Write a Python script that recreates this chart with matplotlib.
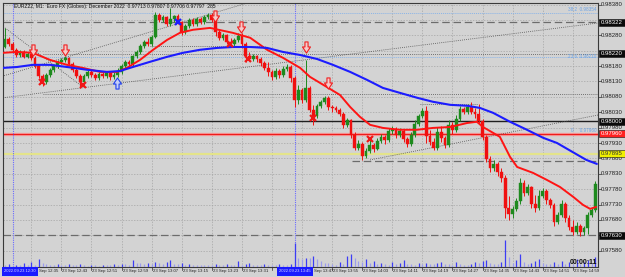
import matplotlib
matplotlib.use("Agg")
import matplotlib.pyplot as plt
from matplotlib.path import Path
from matplotlib.patches import Rectangle

# ---------------- data ----------------
open_ = [0.98242, 0.98268, 0.98252, 0.98233, 0.98216, 0.98226, 0.98210, 0.98220, 0.98207, 0.98181,
         0.98148, 0.98129, 0.98151, 0.98168, 0.98181, 0.98194, 0.98200, 0.98207, 0.98187, 0.98168,
         0.98148, 0.98129, 0.98148, 0.98161, 0.98151, 0.98142, 0.98155, 0.98148, 0.98158, 0.98145,
         0.98151, 0.98161, 0.98181, 0.98194, 0.98187, 0.98213, 0.98226, 0.98246, 0.98259, 0.98252,
         0.98275, 0.98346, 0.98330, 0.98340, 0.98317, 0.98333, 0.98343, 0.98324, 0.98291, 0.98311,
         0.98330, 0.98317, 0.98333, 0.98324, 0.98340, 0.98346, 0.98330, 0.98291, 0.98272, 0.98281,
         0.98259, 0.98252, 0.98265, 0.98278, 0.98252, 0.98213, 0.98203, 0.98213, 0.98203, 0.98190,
         0.98174, 0.98161, 0.98145, 0.98164, 0.98151, 0.98171, 0.98177, 0.98142, 0.98070, 0.98103,
         0.98070, 0.98109, 0.98038, 0.98018, 0.98051, 0.98064, 0.98077, 0.98047, 0.98044, 0.98038,
         0.98025, 0.97989, 0.98005, 0.97956, 0.97914, 0.97927, 0.97888, 0.97904, 0.97924, 0.97911,
         0.97937, 0.97950, 0.97940, 0.97969, 0.97976, 0.97956, 0.97969, 0.97943, 0.97927, 0.97956,
         0.97992, 0.98018, 0.98034, 0.97953, 0.97934, 0.97914, 0.97966, 0.97947, 0.97924, 0.97989,
         0.97973, 0.98008, 0.98041, 0.98031, 0.98047, 0.98031, 0.98025, 0.98002, 0.97950, 0.97878,
         0.97849, 0.97862, 0.97836, 0.97817, 0.97719, 0.97700, 0.97716, 0.97742, 0.97800, 0.97768,
         0.97787, 0.97732, 0.97719, 0.97758, 0.97774, 0.97745, 0.97729, 0.97674, 0.97696, 0.97732,
         0.97687, 0.97657, 0.97641, 0.97661, 0.97641, 0.97654, 0.97696, 0.97713]
high = [0.98304, 0.98275, 0.98259, 0.98239, 0.98233, 0.98233, 0.98226, 0.98223, 0.98213, 0.98187,
        0.98155, 0.98158, 0.98174, 0.98187, 0.98200, 0.98207, 0.98213, 0.98210, 0.98194, 0.98174,
        0.98155, 0.98155, 0.98168, 0.98168, 0.98158, 0.98161, 0.98161, 0.98164, 0.98161, 0.98161,
        0.98174, 0.98187, 0.98200, 0.98200, 0.98216, 0.98233, 0.98252, 0.98265, 0.98272, 0.98281,
        0.98356, 0.98353, 0.98346, 0.98343, 0.98369, 0.98346, 0.98350, 0.98327, 0.98317, 0.98337,
        0.98337, 0.98340, 0.98340, 0.98346, 0.98353, 0.98353, 0.98340, 0.98298, 0.98288, 0.98285,
        0.98272, 0.98272, 0.98288, 0.98288, 0.98259, 0.98226, 0.98220, 0.98216, 0.98210, 0.98197,
        0.98194, 0.98168, 0.98174, 0.98171, 0.98181, 0.98187, 0.98184, 0.98148, 0.98119, 0.98109,
        0.98200, 0.98116, 0.98054, 0.98057, 0.98070, 0.98083, 0.98083, 0.98054, 0.98051, 0.98044,
        0.98031, 0.98012, 0.98008, 0.97966, 0.97940, 0.97934, 0.97914, 0.97940, 0.97930, 0.97947,
        0.97960, 0.97956, 0.97979, 0.97986, 0.97982, 0.97979, 0.97976, 0.97950, 0.97966, 0.98005,
        0.98025, 0.98044, 0.98051, 0.97973, 0.97947, 0.97982, 0.97986, 0.97953, 0.98005, 0.97999,
        0.98021, 0.98051, 0.98047, 0.98057, 0.98064, 0.98044, 0.98057, 0.98008, 0.97956, 0.97888,
        0.97875, 0.97869, 0.97849, 0.97826, 0.97758, 0.97726, 0.97752, 0.97817, 0.97810, 0.97797,
        0.97791, 0.97761, 0.97778, 0.97784, 0.97781, 0.97752, 0.97735, 0.97706, 0.97745, 0.97739,
        0.97696, 0.97680, 0.97674, 0.97667, 0.97661, 0.97706, 0.97719, 0.97807]
low = [0.98239, 0.98246, 0.98226, 0.98210, 0.98210, 0.98207, 0.98207, 0.98200, 0.98174, 0.98142,
       0.98116, 0.98122, 0.98145, 0.98161, 0.98174, 0.98187, 0.98194, 0.98181, 0.98161, 0.98142,
       0.98109, 0.98122, 0.98142, 0.98145, 0.98135, 0.98135, 0.98142, 0.98142, 0.98135, 0.98138,
       0.98145, 0.98155, 0.98174, 0.98181, 0.98181, 0.98207, 0.98220, 0.98239, 0.98246, 0.98246,
       0.98272, 0.98324, 0.98324, 0.98311, 0.98311, 0.98324, 0.98317, 0.98281, 0.98285, 0.98304,
       0.98311, 0.98311, 0.98317, 0.98317, 0.98333, 0.98324, 0.98278, 0.98265, 0.98265, 0.98252,
       0.98246, 0.98246, 0.98259, 0.98239, 0.98194, 0.98200, 0.98197, 0.98194, 0.98181, 0.98168,
       0.98148, 0.98135, 0.98138, 0.98142, 0.98145, 0.98164, 0.98129, 0.98047, 0.98057, 0.98060,
       0.98064, 0.98031, 0.97989, 0.98012, 0.98044, 0.98057, 0.98038, 0.98031, 0.98031, 0.98018,
       0.97979, 0.97982, 0.97947, 0.97908, 0.97908, 0.97875, 0.97882, 0.97898, 0.97901, 0.97908,
       0.97930, 0.97927, 0.97934, 0.97960, 0.97947, 0.97950, 0.97934, 0.97917, 0.97921, 0.97950,
       0.97986, 0.98012, 0.97930, 0.97924, 0.97908, 0.97908, 0.97934, 0.97914, 0.97917, 0.97960,
       0.97966, 0.98002, 0.98025, 0.98025, 0.98025, 0.98012, 0.97992, 0.97940, 0.97869, 0.97836,
       0.97839, 0.97823, 0.97804, 0.97687, 0.97680, 0.97687, 0.97709, 0.97732, 0.97758, 0.97761,
       0.97719, 0.97706, 0.97713, 0.97752, 0.97732, 0.97719, 0.97661, 0.97667, 0.97690, 0.97674,
       0.97648, 0.97631, 0.97635, 0.97628, 0.97631, 0.97635, 0.97690, 0.97706]
close = [0.98268, 0.98252, 0.98233, 0.98216, 0.98226, 0.98210, 0.98220, 0.98207, 0.98181, 0.98148,
         0.98129, 0.98151, 0.98168, 0.98181, 0.98194, 0.98200, 0.98207, 0.98187, 0.98168, 0.98148,
         0.98129, 0.98148, 0.98161, 0.98151, 0.98142, 0.98155, 0.98148, 0.98158, 0.98145, 0.98151,
         0.98161, 0.98181, 0.98194, 0.98187, 0.98213, 0.98226, 0.98246, 0.98259, 0.98252, 0.98275,
         0.98346, 0.98330, 0.98340, 0.98317, 0.98333, 0.98343, 0.98324, 0.98291, 0.98311, 0.98330,
         0.98317, 0.98333, 0.98324, 0.98340, 0.98346, 0.98330, 0.98291, 0.98272, 0.98281, 0.98259,
         0.98252, 0.98265, 0.98278, 0.98252, 0.98213, 0.98203, 0.98213, 0.98203, 0.98190, 0.98174,
         0.98161, 0.98145, 0.98164, 0.98151, 0.98171, 0.98177, 0.98142, 0.98070, 0.98103, 0.98070,
         0.98109, 0.98038, 0.98018, 0.98051, 0.98064, 0.98077, 0.98047, 0.98044, 0.98038, 0.98025,
         0.97989, 0.98005, 0.97956, 0.97914, 0.97927, 0.97888, 0.97904, 0.97924, 0.97911, 0.97937,
         0.97950, 0.97940, 0.97969, 0.97976, 0.97956, 0.97969, 0.97943, 0.97927, 0.97956, 0.97992,
         0.98018, 0.98034, 0.97953, 0.97934, 0.97914, 0.97966, 0.97947, 0.97924, 0.97989, 0.97973,
         0.98008, 0.98041, 0.98031, 0.98047, 0.98031, 0.98025, 0.98002, 0.97950, 0.97878, 0.97849,
         0.97862, 0.97836, 0.97817, 0.97719, 0.97700, 0.97716, 0.97742, 0.97800, 0.97768, 0.97787,
         0.97732, 0.97719, 0.97758, 0.97774, 0.97745, 0.97729, 0.97674, 0.97696, 0.97732, 0.97687,
         0.97657, 0.97641, 0.97661, 0.97641, 0.97654, 0.97696, 0.97713, 0.97797]
volume = [55, 85, 30, 55, 55, 115, 55, 140, 55, 230,
          115, 85, 55, 55, 85, 55, 55, 85, 55, 55,
          85, 55, 30, 55, 55, 30, 55, 55, 55, 85,
          55, 85, 85, 55, 200, 115, 115, 85, 115, 85,
          140, 115, 85, 140, 200, 85, 85, 115, 55, 85,
          55, 55, 55, 55, 55, 55, 85, 55, 55, 85,
          55, 55, 170, 55, 85, 115, 55, 55, 55, 85,
          55, 55, 55, 85, 55, 55, 85, 685, 255, 230,
          255, 255, 315, 230, 170, 115, 115, 85, 55, 140,
          85, 315, 370, 255, 170, 140, 230, 115, 170, 85,
          115, 85, 55, 140, 85, 115, 200, 85, 85, 55,
          115, 85, 115, 85, 85, 115, 140, 85, 85, 55,
          140, 85, 55, 55, 85, 140, 115, 170, 200, 115,
          85, 85, 140, 770, 285, 115, 200, 370, 140, 85,
          115, 170, 230, 115, 85, 85, 140, 85, 170, 85,
          140, 85, 230, 85, 140, 200, 115, 285]

red_ma_idx = [-0.6, 3.2, 7.4, 12, 16.5, 20.7, 25.3, 29.8, 32.4, 35.9, 39.4, 43.1, 46.5, 50, 54.5,
              60.6, 65.2, 69.7, 73.9, 78.5, 81.1, 85.6, 89.1, 91.8, 94.4, 97.1, 100.5, 105,
              109.6, 113.8, 118.4, 122.9, 125.5, 127.1, 129.8, 131.6, 134.3, 136.2, 140.4,
              144.1, 147.6, 151.1, 153.7, 155.6, 157.2]
red_ma = [0.98223, 0.98226, 0.98223, 0.98200, 0.98184, 0.98174, 0.98161, 0.98161, 0.98174, 0.98200,
          0.98233, 0.98265, 0.98288, 0.98298, 0.98304, 0.98288, 0.98272, 0.98233, 0.98207, 0.98174,
          0.98145, 0.98112, 0.98086, 0.98047, 0.98015, 0.97989, 0.97979, 0.97973, 0.97973, 0.97979,
          0.97982, 0.97995, 0.97999, 0.97982, 0.97963, 0.97950, 0.97885, 0.97852, 0.97833, 0.97810,
          0.97787, 0.97755, 0.97729, 0.97716, 0.97722]
blue_ma_idx = [-0.6, 3.2, 7.4, 12, 16.5, 21.8, 27.1, 30.6, 34, 38.6, 43.1, 47.3, 51.9, 56.4, 60.6,
               65.2, 69.7, 73.9, 78.5, 83, 87.2, 91.8, 96.3, 100.5, 105, 109.6, 113.8, 118.4,
               122.9, 126.3, 129.8, 134.3, 138.8, 143.1, 146.8, 150.9, 154.6, 157.4]
blue_ma = [0.98174, 0.98177, 0.98184, 0.98184, 0.98177, 0.98168, 0.98161, 0.98164, 0.98177, 0.98194,
           0.98210, 0.98223, 0.98233, 0.98239, 0.98242, 0.98242, 0.98239, 0.98226, 0.98216, 0.98203,
           0.98184, 0.98161, 0.98135, 0.98109, 0.98093, 0.98077, 0.98064, 0.98054, 0.98051, 0.98044,
           0.98028, 0.97999, 0.97973, 0.97947, 0.97930, 0.97901, 0.97875, 0.97862]

tick_idx = [7, 15, 23, 31, 39, 47, 55, 63, 71, 79, 87, 95, 103, 111, 119, 127, 135, 143, 151]
tick_labels = ["23 Sep 12:35", "23 Sep 12:43", "23 Sep 12:51", "23 Sep 12:59", "23 Sep 13:07",
               "23 Sep 13:15", "23 Sep 13:23", "23 Sep 13:31", "23 Sep 13:39", "23 Sep 13:47",
               "23 Sep 13:55", "23 Sep 14:03", "23 Sep 14:11", "23 Sep 14:19", "23 Sep 14:27",
               "23 Sep 14:35", "23 Sep 14:43", "23 Sep 14:51", "23 Sep 14:59"]
price_ticks = [0.98380, 0.98330, 0.98280, 0.98230, 0.98180, 0.98130, 0.98080, 0.98030, 0.97980,
               0.97930, 0.97880, 0.97830, 0.97780, 0.97730, 0.97680, 0.97630, 0.97580]
price_labels = ["0.98380", "0.98330", "0.98280", "0.98230", "0.98180", "0.98130", "0.98080",
                "0.98030", "0.97980", "0.97930", "0.97880", "0.97830", "0.97780", "0.97730",
                "0.97680", "0.97630", "0.97580"]

sell_idx = [7.4, 16, 55.9, 62.8, 80, 85.9]
sell_price = [0.98233, 0.98233, 0.98343, 0.98307, 0.98242, 0.98125]
buy_idx = [29.8]
buy_price = [0.98125]
redx_idx = [9.8, 20.7, 59.8, 64.6, 81.9, 97.1]
redx_price = [0.98129, 0.98119, 0.98252, 0.98203, 0.98012, 0.97943]
bluex_idx = [46]
bluex_price = [0.98324]

vline_idx = [2, 77]
vline_labels = ["2022.09.23 12:30", "2022.09.23 13:45"]

level_boxes = [0.98322, 0.98220, 0.98000, 0.97960, 0.97895, 0.97630]
level_box_labels = ["0.98322", "0.98220", "0.98000", "0.97960", "0.97895", "0.97630"]

fib_levels = [0.98354, 0.98210, 0.97960]
fib_labels = ["38.2  0.98354", "23.6  0.98210", "0     0.97960"]

title = "EURZ22, M1:  Euro FX (Globex): December 2022  0.97713 0.97807 0.97706 0.97797  285"
timer = "00:00:11"

# ---------------- figure ----------------
W, H = 625, 277
BG = "#d3d3d3"
FONT = ["Liberation Sans", "DejaVu Sans"]
plt.rcParams["font.family"] = FONT
fig = plt.figure(figsize=(W / 100, H / 100), dpi=100, facecolor=BG)
AX_L, AX_B, AX_W, AX_H = 3, 10, 595, 264
ax = fig.add_axes([AX_L / W, AX_B / H, AX_W / W, AX_H / H])
ax.set_facecolor(BG)
XMIN, XMAX = -0.53, 157.7
YMIN, YMAX = 0.97527, 0.98385
ax.set_xlim(XMIN, XMAX)
ax.set_ylim(YMIN, YMAX)
ax.set_xticks([])
ax.set_yticks([])
for s in ax.spines.values():
    s.set_color("#3a3a3a")
    s.set_linewidth(0.8)

# grid
for t in tick_idx:
    ax.axvline(t, color="#a4a4a4", lw=0.5, ls=(0, (2, 2)), zorder=0)
for p in price_ticks:
    ax.axhline(p, color="#a4a4a4", lw=0.5, ls=(0, (2, 2)), zorder=0)

# volume overlay
vax = fig.add_axes(ax.get_position(), sharex=ax)
vax.set_ylim(0, AX_H * 28.5)
vax.axis("off")
vax.patch.set_visible(False)
for i, v in enumerate(volume):
    col = "#3c3cf5" if (i > 0 and v > volume[i - 1]) else "#9c9cec"
    vax.vlines(i, 0, v, color=col, lw=0.9, zorder=1)

# horizontal levels
ax.axhline(0.98322, color="#6c6c6c", lw=0.9, ls=(0, (6, 3)), zorder=1)
ax.axhline(0.97630, color="#6c6c6c", lw=0.9, ls=(0, (6, 3)), zorder=1)
ax.plot([92.3, XMAX], [0.97872, 0.97872], color="#6c6c6c", lw=0.9, ls=(0, (6, 3)), zorder=1)
for fl in fib_levels[:2]:
    ax.axhline(fl, color="#8ab4e8", lw=0.7, ls=(0, (1, 1)), zorder=1)
ax.axhline(0.98000, color="#202020", lw=1.0, zorder=2)
ax.axhline(0.97960, color="#f4a0a0", lw=2.4, zorder=2)
ax.axhline(0.97960, color="#ee1c1c", lw=0.9, zorder=2)
ax.axhline(0.97895, color="#e4e48a", lw=1.6, zorder=2)

dot = dict(color="#505050", lw=0.6, ls=(0, (1, 1.5)), zorder=2)
ax.plot([10.1, XMAX], [0.98220, 0.98220], **dot)
ax.plot([38.6, 69.1], [0.98246, 0.98246], **dot)
ax.plot([10.1, XMAX], [0.98090, 0.98090], **dot)
ax.plot([110.4, 125.5], [0.98057, 0.98057], **dot)
ax.plot([0, 20.7], [0.98304, 0.98112], **dot)
ax.plot([-0.5, 157.7], [0.98077, 0.98320], **dot)
ax.plot([-1.3, 64.4], [0.98145, 0.98385], **dot)
ax.plot([97.1, 157.7], [0.97875, 0.98021], **dot)

for v in vline_idx:
    ax.axvline(v, color="#6a6aff", lw=0.8, ls=(0, (1, 1)), zorder=2)

# candles
UP, DN, DJ = "#1e8a1e", "#f01010", "#7a7a7a"
for i in range(len(close)):
    o, h, l, c = open_[i], high[i], low[i], close[i]
    col = UP if c > o else (DN if c < o else DJ)
    ax.vlines(i, l, h, color=col, lw=0.7, zorder=3)
    lo = min(o, c)
    hh = max(abs(c - o), 0.000012)
    ax.add_patch(Rectangle((i - 0.37, lo), 0.74, hh, fc=col, ec=col, lw=0.3, zorder=3))

# moving averages
ax.plot(red_ma_idx, red_ma, color="#ff1414", lw=1.4, zorder=4, solid_capstyle="round")
ax.plot(blue_ma_idx, blue_ma, color="#1c1cff", lw=1.5, zorder=4, solid_capstyle="round")

# signal markers
down_path = Path([(-0.28, 1), (0.28, 1), (0.28, 0.1), (0.72, 0.1), (0, -1), (-0.72, 0.1),
                  (-0.28, 0.1), (-0.28, 1)],
                 [Path.MOVETO] + [Path.LINETO] * 6 + [Path.CLOSEPOLY])
up_path = Path([(x, -y) for x, y in down_path.vertices], down_path.codes)
ax.plot(sell_idx, sell_price, ls="none", marker=down_path, ms=8, mfc="#f5caca",
        mec="#f02020", mew=0.8, zorder=5)
ax.plot(buy_idx, buy_price, ls="none", marker=up_path, ms=8, mfc="#c8d0f5",
        mec="#2040f0", mew=0.8, zorder=5)
ax.plot(redx_idx, redx_price, ls="none", marker="x", ms=4, mec="#f01818", mew=1.6, zorder=5)
ax.plot(bluex_idx, bluex_price, ls="none", marker="x", ms=4, mec="#1c1cff", mew=1.6, zorder=5)

# ---------------- right price scale ----------------
ytr = ax.get_yaxis_transform()
px = 1 / AX_W
FS_P = 4.3

def ypix(price):
    return AX_B + AX_H * (price - YMIN) / (YMAX - YMIN)   # from figure bottom

box_y = [ypix(b) for b in level_boxes]
for p, lab in zip(price_ticks, price_labels):
    ax.plot([1, 1 + 3 * px], [p, p], color="#303030", lw=0.5, transform=ytr, clip_on=False)
    yp = ypix(p)
    if any(abs(yp - by) < 4.5 for by in box_y):
        continue
    fig.text(601 / W, yp / H, lab, fontsize=FS_P, va="center", ha="left", color="#202020")

box_style = {"0.97960": ("#ff2020", "white"), "0.97895": ("#f0f000", "#303030")}
for b, lab in zip(level_boxes, level_box_labels):
    fc, tc = box_style.get(lab, ("#0a0a0a", "white"))
    yb = ypix(b)
    fig.patches.append(Rectangle((599 / W, (yb - 3.3) / H), 26 / W, 6.6 / H,
                                 transform=fig.transFigure, fc=fc, ec="#101010", lw=0.4,
                                 zorder=9))
    fig.text(601 / W, yb / H, lab, fontsize=FS_P, va="center", ha="left", color=tc, zorder=10)

# fibo labels
for fl, lab, dy in zip(fib_levels, fib_labels, [0.00010, 0.0, 0.00012]):
    ax.text(157.3, fl + dy, lab, fontsize=3.3, color="#6aa2e6", ha="right", va="center",
            zorder=6)

# ---------------- time scale ----------------
xtr = ax.get_xaxis_transform()
FS_T = 3.1
LABEL_W = 25
box_spans = []
for v in vline_idx:
    xpix = 5 + 3.76 * v
    left = max(2, xpix - 18)
    box_spans.append((left, left + 36))

for t, lab in zip(tick_idx, tick_labels):
    ax.plot([t, t], [0, -3 / AX_H], color="#303030", lw=0.5, transform=xtr, clip_on=False)
    xl = AX_L + (t - XMIN) / (XMAX - XMIN) * AX_W + 1
    xr = xl + LABEL_W
    txt = lab
    for (bl, br) in box_spans:
        if xr > bl and xl < br:
            if xl < bl:
                txt = None            # hidden behind the box
            else:
                txt = lab[3:]         # only the tail shows past the box
                xl = br + 1
    if txt:
        fig.text(xl / W, 1 - 271 / H, txt, fontsize=FS_T, ha="left", va="center",
                 color="#202020")

for (bl, br), lab in zip(box_spans, vline_labels):
    fig.patches.append(Rectangle((bl / W, 1 - 275.5 / H), 36 / W, 9 / H,
                                 transform=fig.transFigure, fc="#1a1aff", ec="none", zorder=11))
    fig.text((bl + 18) / W, 1 - 271 / H, lab, fontsize=FS_T - 0.1, color="#dcdcff",
             ha="center", va="center", zorder=12)

fig.text(14 / W, 1 - 6.5 / H, title, fontsize=3.6, color="#101010", ha="left", va="center")
fig.text(597 / W, 1 - 262 / H, timer, fontsize=5.0, fontweight="bold", color="#101010",
         ha="right", va="center", zorder=12)

fig.savefig("out.png", dpi=100, facecolor=BG)
